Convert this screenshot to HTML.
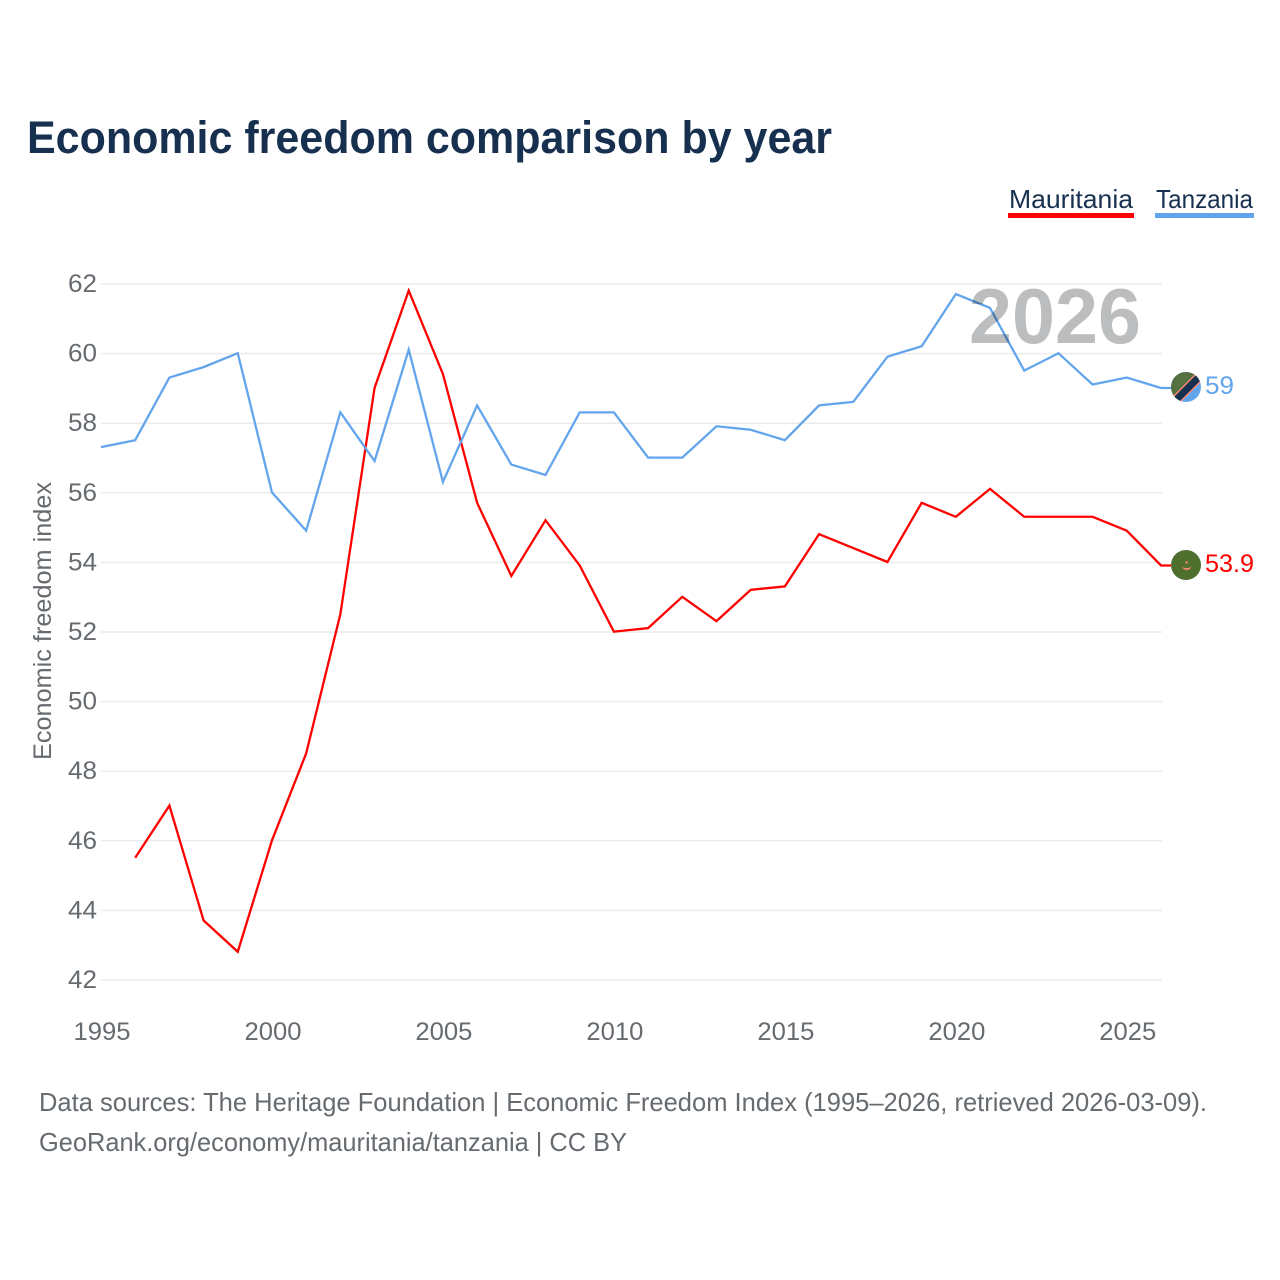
<!DOCTYPE html>
<html>
<head>
<meta charset="utf-8">
<style>
html,body{margin:0;padding:0;background:#fff;width:1280px;height:1280px;overflow:hidden}
svg{display:block}
text{font-family:"Liberation Sans",sans-serif}
</style>
</head>
<body>
<svg id="chart" width="1280" height="1280" viewBox="0 0 1280 1280" xmlns="http://www.w3.org/2000/svg">
  <text x="27" y="153" font-size="45" font-weight="700" fill="#17304f" textLength="805" lengthAdjust="spacingAndGlyphs">Economic freedom comparison by year</text>

  <g>
    <g>
      <text x="1009" y="208" font-size="26" fill="#17304f" textLength="124" lengthAdjust="spacingAndGlyphs">Mauritania</text>
      <rect x="1008" y="213" width="126" height="5" fill="#ff0000"/>
    </g>
    <g>
      <text x="1156" y="208" font-size="26" fill="#17304f" textLength="97" lengthAdjust="spacingAndGlyphs">Tanzania</text>
      <rect x="1155" y="213" width="99" height="5" fill="#63a5ec"/>
    </g>
  </g>

  <g id="grid"></g>
  <g id="yticks"></g>
  <g id="xticks"></g>
  <text transform="translate(51 621) rotate(-90)" text-anchor="middle" font-size="25" fill="#666b70" textLength="278" lengthAdjust="spacingAndGlyphs">Economic freedom index</text>

  <g id="series"></g>

  <text x="969" y="343" font-size="78" font-weight="700" fill="#bbbdbf" style="mix-blend-mode:multiply" textLength="172" lengthAdjust="spacingAndGlyphs">2026</text>

  <defs>
    <clipPath id="flag-clip-tz"><circle cx="1186" cy="387" r="15"/></clipPath>
  </defs>
  <g id="flag-tanzania" clip-path="url(#flag-clip-tz)">
    <rect x="1170" y="371" width="34" height="34" fill="#63a5ec"/>
    <polygon points="1170,371 1204,371 1170,405" fill="#56703f"/>
    <polygon points="1165,404 1205,364 1205,378 1165,418" fill="#ff8a78"/>
    <polygon points="1165,406 1205,366 1205,376 1165,416" fill="#17304f"/>
  </g>
  <g id="flag-mauritania">
    <circle cx="1186" cy="565" r="15" fill="#4f6f2f"/>
    <path d="M1182 566.500 A5 5 0 0 0 1191.500 566.500 A5.500 3.500 0 0 1 1182 566.500Z" fill="#ff8a78"/>
    <circle cx="1186.500" cy="562.500" r="1.200" fill="#ff8a78"/>
  </g>

  <text x="1205" y="394" font-size="25" fill="#63a5ec" textLength="29" lengthAdjust="spacingAndGlyphs">59</text>
  <text x="1205" y="572" font-size="25" fill="#ff0000" textLength="49" lengthAdjust="spacingAndGlyphs">53.9</text>

  <text x="39" y="1111" font-size="26" fill="#666b70" textLength="1168" lengthAdjust="spacingAndGlyphs">Data sources: The Heritage Foundation | Economic Freedom Index (1995–2026, retrieved 2026-03-09).</text>
  <text x="39" y="1151" font-size="26" fill="#666b70" textLength="588" lengthAdjust="spacingAndGlyphs">GeoRank.org/economy/mauritania/tanzania | CC BY</text>
</svg>
<script>
const years = [1995,1996,1997,1998,1999,2000,2001,2002,2003,2004,2005,2006,2007,2008,2009,2010,2011,2012,2013,2014,2015,2016,2017,2018,2019,2020,2021,2022,2023,2024,2025,2026];
const mauritania = [null,45.5,47,43.7,42.8,46,48.5,52.5,59,61.8,59.4,55.7,53.6,55.2,53.9,52,52.1,53,52.3,53.2,53.3,54.8,54.4,54,55.7,55.3,56.1,55.3,55.3,55.3,54.9,53.9];
const tanzania = [57.3,57.5,59.3,59.6,60,56,54.9,58.3,56.9,60.1,56.3,58.5,56.8,56.5,58.3,58.3,57,57,57.9,57.8,57.5,58.5,58.6,59.9,60.2,61.7,61.3,59.5,60,59.1,59.3,59];
const yTickLabels = [42,44,46,48,50,52,54,56,58,60,62];
const xTickLabels = [1995,2000,2005,2010,2015,2020,2025];

const SVGNS = 'http://www.w3.org/2000/svg';
function xScale(year){ return 101 + (year - 1995) * (1161 - 101) / (2026 - 1995); }
function yScale(value){ return 979.6 - (value - 42) * (979.6 - 283.6) / (62 - 42); }

const grid = document.getElementById('grid');
const yticks = document.getElementById('yticks');
const xticks = document.getElementById('xticks');
const series = document.getElementById('series');

yTickLabels.forEach(function(v){
  const line = document.createElementNS(SVGNS,'line');
  
  
  line.setAttribute('x1', 101);
  line.setAttribute('x2', 1162);
  line.setAttribute('y1', yScale(v) + 0.4);
  line.setAttribute('y2', yScale(v) + 0.4);
  line.setAttribute('stroke', '#ebebeb');
  line.setAttribute('stroke-width', '1.500');
  grid.appendChild(line);

  const t = document.createElementNS(SVGNS,'text');
  
  
  t.setAttribute('x', 97);
  t.setAttribute('y', yScale(v) + 8.4);
  t.setAttribute('text-anchor', 'end');
  t.setAttribute('font-size', '25');
  t.setAttribute('fill', '#666b70');
  t.setAttribute('textLength', '29');
  t.setAttribute('lengthAdjust', 'spacingAndGlyphs');
  t.textContent = v;
  yticks.appendChild(t);
});

xTickLabels.forEach(function(v){
  const t = document.createElementNS(SVGNS,'text');
  
  
  t.setAttribute('x', xScale(v) + 1);
  t.setAttribute('y', 1040);
  t.setAttribute('text-anchor', 'middle');
  t.setAttribute('font-size', '25');
  t.setAttribute('fill', '#666b70');
  t.setAttribute('textLength', '57');
  t.setAttribute('lengthAdjust', 'spacingAndGlyphs');
  t.textContent = v;
  xticks.appendChild(t);
});

function linePoints(values){
  const pts = [];
  values.forEach(function(v,i){
    if (v !== null) pts.push(xScale(years[i]).toFixed(2) + ',' + yScale(v).toFixed(2));
  });
  const last = values[values.length - 1];
  pts.push((xScale(years[years.length - 1]) + 10).toFixed(2) + ',' + yScale(last).toFixed(2));
  return pts.join(' ');
}

const lineMauritania = document.createElementNS(SVGNS,'polyline');


lineMauritania.setAttribute('points', linePoints(mauritania));
lineMauritania.setAttribute('fill', 'none');
lineMauritania.setAttribute('stroke', '#ff0000');
lineMauritania.setAttribute('stroke-width', '2.300');
series.appendChild(lineMauritania);

const lineTanzania = document.createElementNS(SVGNS,'polyline');


lineTanzania.setAttribute('points', linePoints(tanzania));
lineTanzania.setAttribute('fill', 'none');
lineTanzania.setAttribute('stroke', '#63a5ec');
lineTanzania.setAttribute('stroke-width', '2.300');
series.appendChild(lineTanzania);
</script>
</body>
</html>
